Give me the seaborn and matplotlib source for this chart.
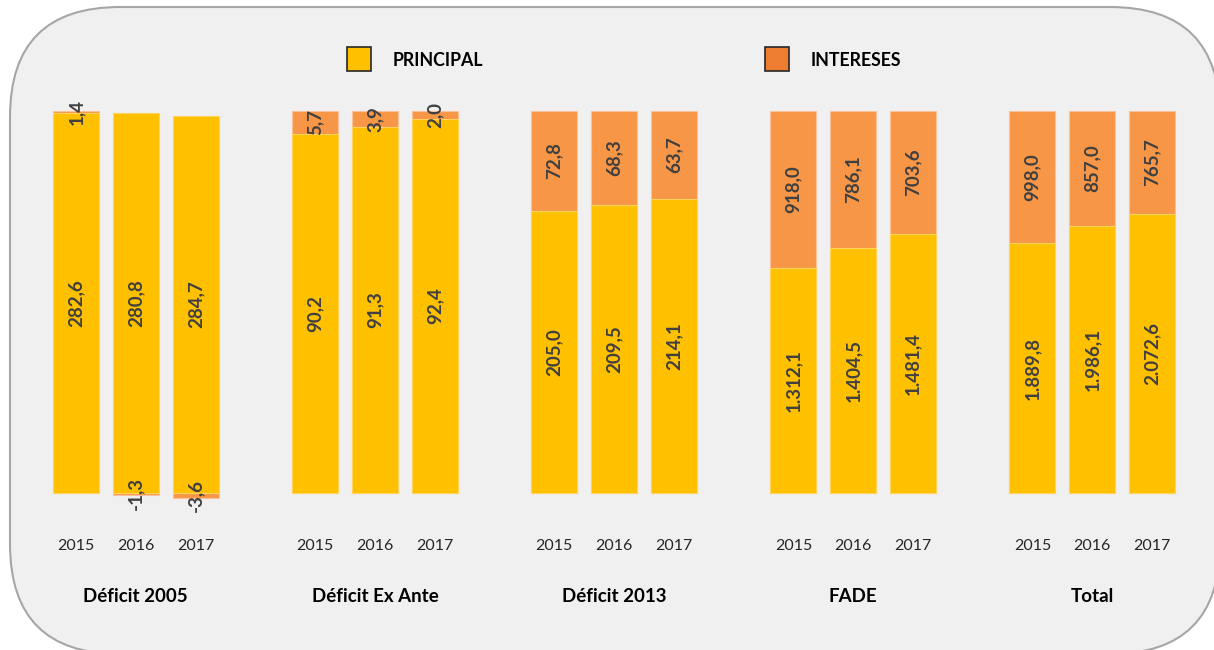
import numpy as np
import pandas as pd
import matplotlib
matplotlib.use('Agg')
import matplotlib.pyplot as plt
import matplotlib.transforms as mtransforms
from matplotlib.patches import FancyBboxPatch, Rectangle
import seaborn as sns

groups = ['Déficit 2005', 'Déficit Ex Ante', 'Déficit 2013', 'FADE', 'Total']
years = ['2015', '2016', '2017']
principal = [282.6, 280.8, 284.7,
             90.2, 91.3, 92.4,
             205.0, 209.5, 214.1,
             1312.1, 1404.5, 1481.4,
             1889.8, 1986.1, 2072.6]
intereses = [1.4, -1.3, -3.6,
             5.7, 3.9, 2.0,
             72.8, 68.3, 63.7,
             918.0, 786.1, 703.6,
             998.0, 857.0, 765.7]

col_principal = '#FFC000'
col_intereses = '#F79646'
col_legend_int = '#ED7D31'
label_col = '#404040'

sns.set_style('white')
plt.rcParams['font.family'] = ['Lato', 'DejaVu Sans']

# 100% stacked: shares over sum of absolute values (like Excel does)
p = np.array(principal)
i = np.array(intereses)
tot = np.abs(p) + np.abs(i)
p_pct = p / tot * 100
i_pct = i / tot * 100
pos = np.array([g * 4 + k for g in range(len(groups)) for k in range(len(years))], dtype=float)

df = pd.DataFrame({
    'pos': pos,
    'principal': p_pct,
    # intereses drawn behind: full stack if positive, below zero if negative
    'intereses': np.where(i_pct >= 0, p_pct + i_pct, i_pct),
})

fig = plt.figure(figsize=(12.14, 6.5), dpi=100)

# background with rounded frame, in pixel coords
bg = fig.add_axes([0, 0, 1, 1])
bg.set_xlim(0, 1214)
bg.set_ylim(650, 0)
bg.axis('off')
bg.add_patch(FancyBboxPatch((10, 7), 1210, 647,
                            boxstyle='round,pad=0,rounding_size=110',
                            facecolor='#F0F0F0', edgecolor='#A6A6A6', linewidth=1.5))

ax = fig.add_axes([0, 0, 1, 1], zorder=2)
ax.patch.set_visible(False)

sns.barplot(data=df, x='pos', y='intereses', native_scale=True, orient='x',
            color=col_intereses, saturation=1, width=0.77, errorbar=None,
            edgecolor='#FAC29A', linewidth=0.8, ax=ax)
sns.barplot(data=df, x='pos', y='principal', native_scale=True, orient='x',
            color=col_principal, saturation=1, width=0.77, errorbar=None,
            edgecolor='#FFD45C', linewidth=0.8, ax=ax)

px_per_unit = 59.78
x0 = 76
ax.set_xlim(-x0 / px_per_unit, (1214 - x0) / px_per_unit)
ax.set_ylim(-(650 - 493) / 3.82, 493 / 3.82)
ax.axis('off')


def fmt(v):
    s = f'{v:,.1f}'
    return s.replace(',', 'X').replace('.', ',').replace('X', '.')


for x, pp, ip, pv, iv in zip(pos, p_pct, i_pct, principal, intereses):
    ax.text(x, pp / 2, fmt(pv), rotation=90, ha='center', va='center',
            fontsize=13.5, fontweight='bold', color=label_col)
    yi = pp + ip / 2 if ip >= 0 else ip / 2
    ax.text(x, yi, fmt(iv), rotation=90, ha='center', va='center',
            fontsize=13.5, fontweight='bold', color=label_col)

# category labels: x in data, y in pixels
tr = mtransforms.blended_transform_factory(ax.transData, bg.transData)
for x, k in zip(pos, range(len(pos))):
    ax.text(x, 546, years[k % 3], transform=tr, ha='center', va='center',
            fontsize=11.5, color='#262626')
for g, name in enumerate(groups):
    ax.text(g * 4 + 1, 596, name, transform=tr, ha='center', va='center',
            fontsize=13.5, fontweight='bold', color='black')

# legend
for xs, col, lab in [(347, col_principal, 'PRINCIPAL'), (765, col_legend_int, 'INTERESES')]:
    bg.add_patch(Rectangle((xs, 47), 24, 24, facecolor=col, edgecolor='#262626', linewidth=1.2))
    bg.text(xs + 46, 60, lab, ha='left', va='center', fontsize=12.8,
            fontweight='bold', color='black')

fig.savefig('out.png', dpi=100)
